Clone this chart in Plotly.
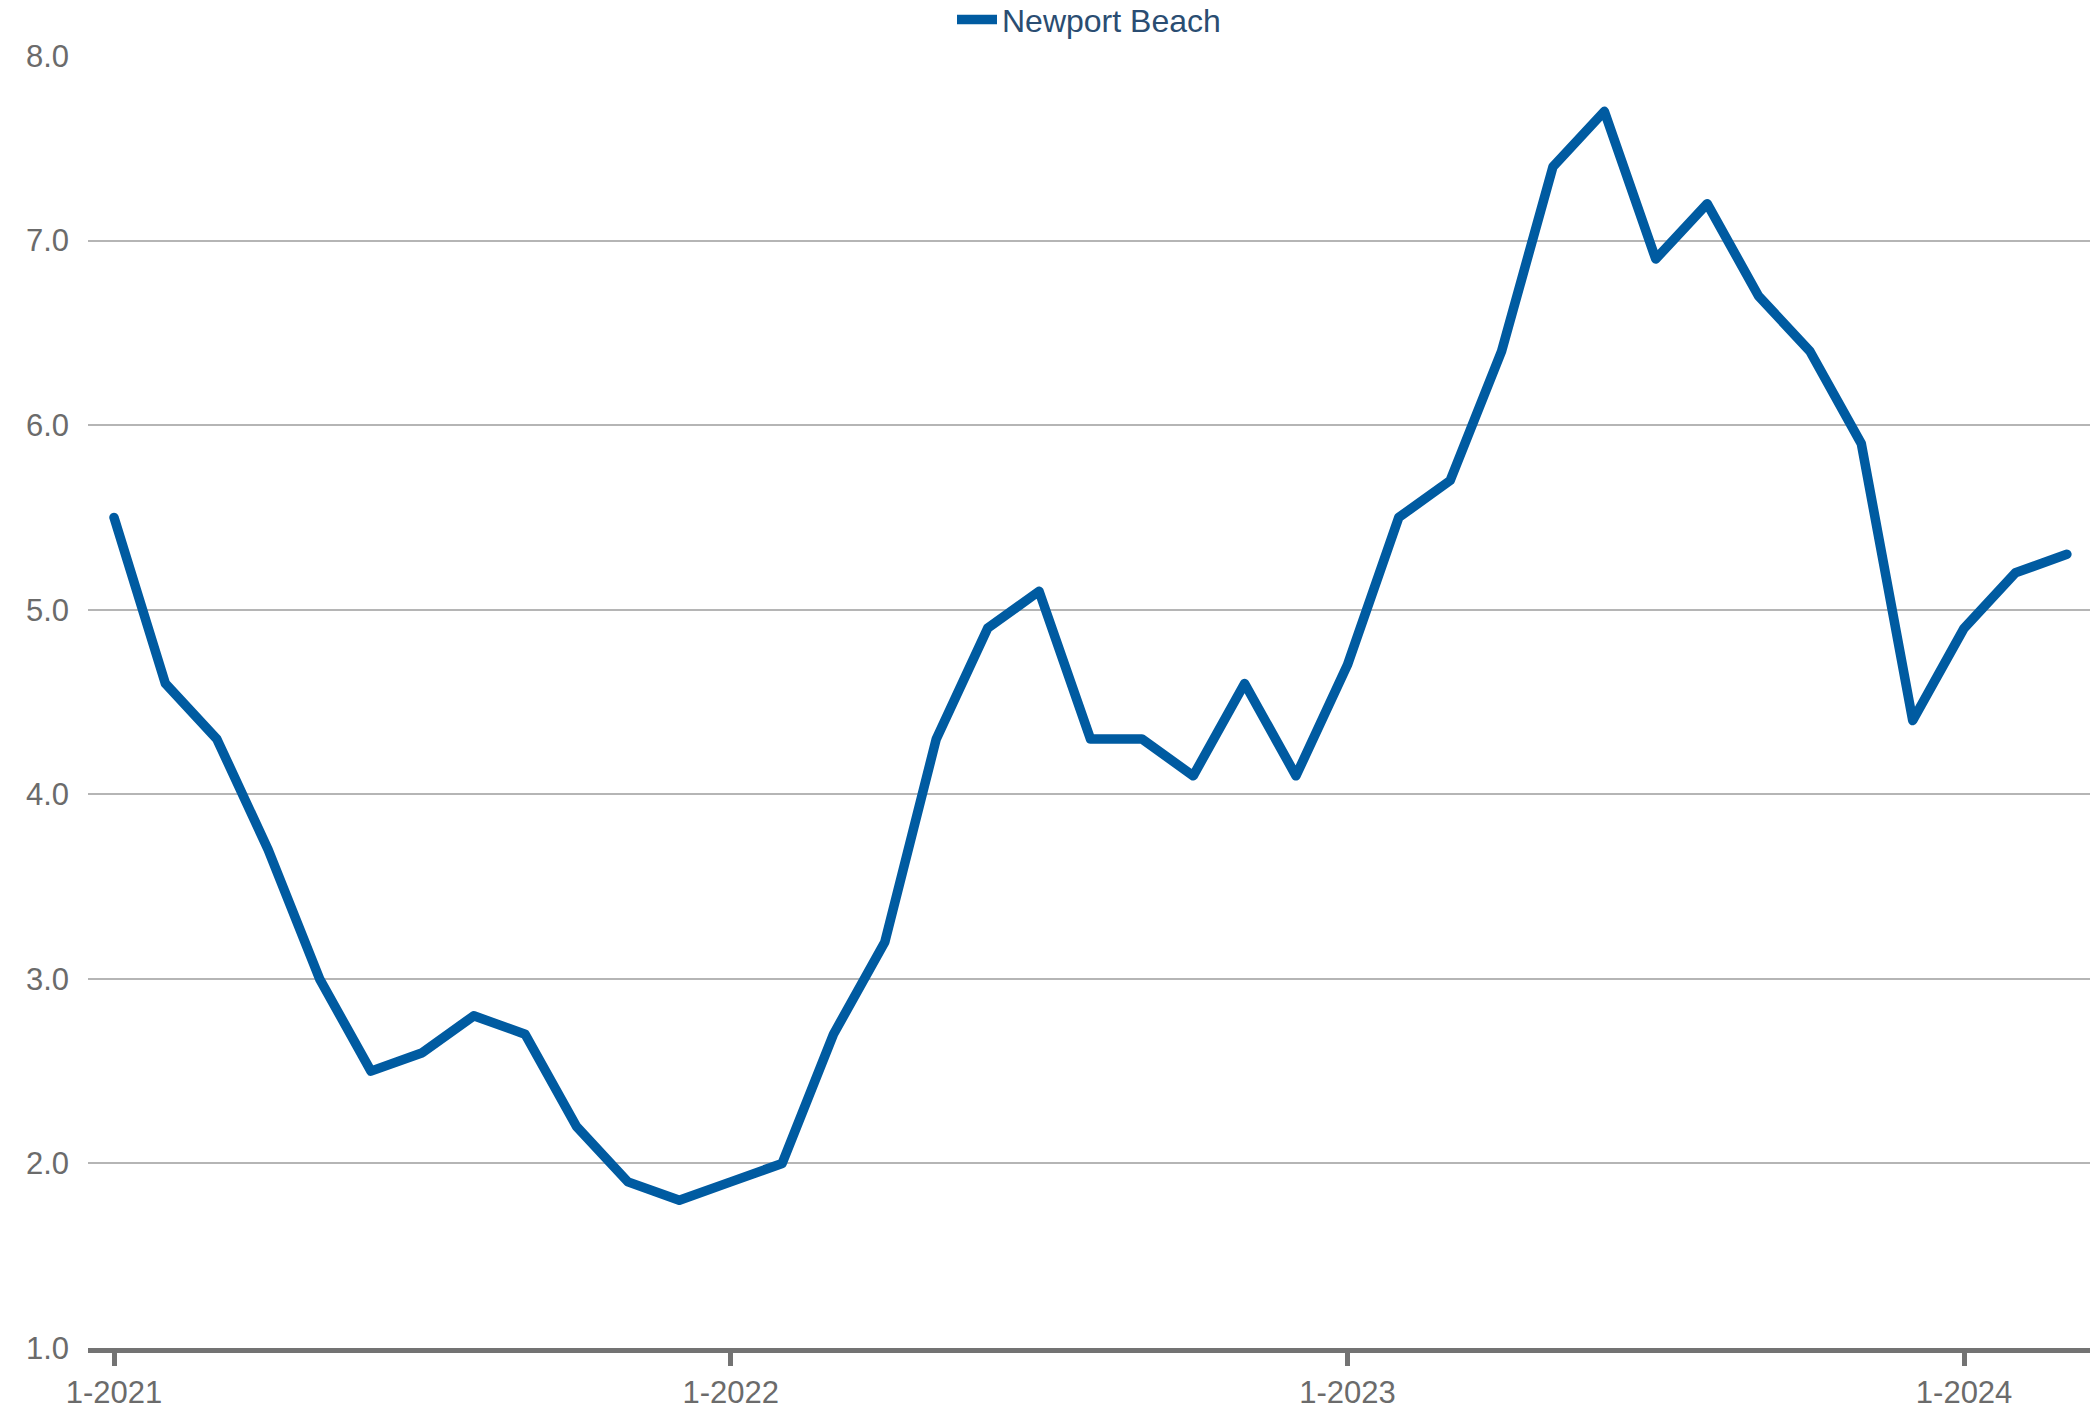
import plotly.graph_objects as go

months = [
    "1-2021", "2-2021", "3-2021", "4-2021", "5-2021", "6-2021", "7-2021", "8-2021", "9-2021", "10-2021", "11-2021", "12-2021",
    "1-2022", "2-2022", "3-2022", "4-2022", "5-2022", "6-2022", "7-2022", "8-2022", "9-2022", "10-2022", "11-2022", "12-2022",
    "1-2023", "2-2023", "3-2023", "4-2023", "5-2023", "6-2023", "7-2023", "8-2023", "9-2023", "10-2023", "11-2023", "12-2023",
    "1-2024", "2-2024", "3-2024",
]
newport_beach = [
    5.5, 4.6, 4.3, 3.7, 3.0, 2.5, 2.6, 2.8, 2.7, 2.2, 1.9, 1.8,
    1.9, 2.0, 2.7, 3.2, 4.3, 4.9, 5.1, 4.3, 4.3, 4.1, 4.6, 4.1,
    4.7, 5.5, 5.7, 6.4, 7.4, 7.7, 6.9, 7.2, 6.7, 6.4, 5.9, 4.4,
    4.9, 5.2, 5.3,
]
tick_labels = ["1-2021", "1-2022", "1-2023", "1-2024"]
y_ticks = [1, 2, 3, 4, 5, 6, 7, 8]

idx = list(range(len(months)))
tick_idx = [months.index(t) for t in tick_labels]

fig = go.Figure()
fig.add_trace(go.Scatter(
    x=idx, y=newport_beach, mode="lines", name="Newport Beach",
    line=dict(color="#005ba1", width=9.5),
    text=months, hovertemplate="%{text}: %{y:.1f}<extra></extra>",
))

fig.update_layout(
    width=2090, height=1406,
    margin=dict(l=88, r=0, t=56, b=58, autoexpand=False),
    paper_bgcolor="white", plot_bgcolor="white",
    font=dict(family="Liberation Sans, Arial, sans-serif", size=31, color="#6b6b6b"),
    showlegend=True,
    legend=dict(orientation="h", x=0.5, xanchor="center", y=1.028, yanchor="middle",
                font=dict(size=32, color="#2a4d72"), itemwidth=40, bgcolor="rgba(0,0,0,0)"),
    xaxis=dict(
        range=[-0.506, 38.45], tickmode="array", tickvals=tick_idx, ticktext=tick_labels,
        showgrid=False, zeroline=False, showline=True, linecolor="#737373", linewidth=5,
        ticks="outside", ticklen=13, tickwidth=5, tickcolor="#737373",
        tickfont=dict(size=31, color="#6b6b6b"),
    ),
    yaxis=dict(
        range=[1, 8], tickmode="array", tickvals=y_ticks, tickformat=".1f",
        showgrid=True, gridcolor="#b5b5b5", gridwidth=2, zeroline=False, showline=False,
        ticks="", ticklabelstandoff=18,
        tickfont=dict(size=31, color="#6b6b6b"),
    ),
)

post = """
document.body.style.margin='0';
document.body.style.overflow='hidden';
document.querySelectorAll('.scatterlayer path.js-line').forEach(function(p){
  p.style.strokeLinecap='round'; p.style.strokeLinejoin='round';
});
"""
fig.write_html("out.html", post_script=post, config={"displayModeBar": False})
